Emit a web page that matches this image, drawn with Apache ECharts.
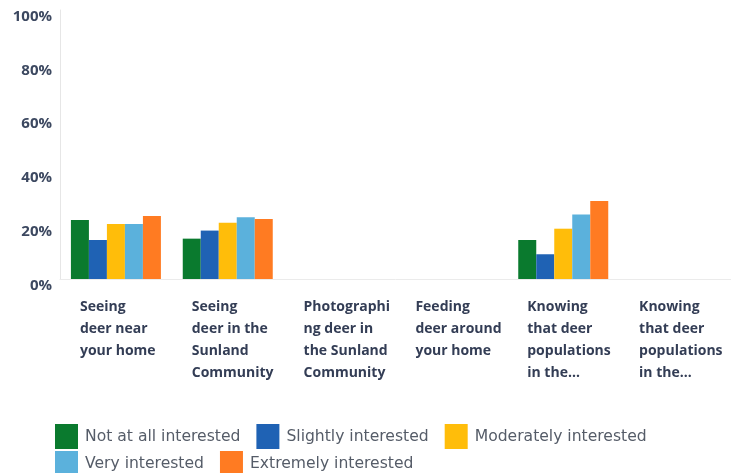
<!DOCTYPE html>
<html>
<head>
    <meta charset="utf-8">
    <title>Deer interest</title>
    <script src="https://cdn.jsdelivr.net/npm/echarts@6/dist/echarts.min.js"></script>
    <style>
        html, body { margin: 0; padding: 0; background: #fff; }
        #chart1 { width: 731px; height: 473px; }
    </style>
</head>
<body>
    <div id="chart1"></div>
    <script type="text/javascript">
        // categories (as wrapped on the original chart)
        var categories = [
            'Seeing\ndeer near\nyour home',
            'Seeing\ndeer in the\nSunland\nCommunity',
            'Photographi\nng deer in\nthe Sunland\nCommunity',
            'Feeding\ndeer around\nyour home',
            'Knowing\nthat deer\npopulations\nin the…',
            'Knowing\nthat deer\npopulations\nin the…'
        ];
        var seriesNames = ['Not at all interested', 'Slightly interested', 'Moderately interested',
                           'Very interested', 'Extremely interested'];
        var notAtAll   = [21.9, 15.0, 0, 0, 14.5, 0];
        var slightly   = [14.5, 18.0, 0, 0, 9.2, 0];
        var moderately = [20.4, 20.9, 0, 0, 18.7, 0];
        var very       = [20.4, 23.0, 0, 0, 24.0, 0];
        var extremely  = [23.4, 22.3, 0, 0, 29.0, 0];
        var yTicks = [0, 20, 40, 60, 80, 100];

        var colors = ['#0a7a2e', '#1f62b4', '#ffbd0a', '#5bb1dc', '#ff7b22'];
        var values = [notAtAll, slightly, moderately, very, extremely];

        var series = [];
        for (var i = 0; i < seriesNames.length; i++) {
            series.push({
                name: seriesNames[i],
                type: 'bar',
                barWidth: 18,
                barGap: '0%',
                itemStyle: { color: colors[i] },
                data: values[i]
            });
        }

        var legendText = { color: '#555c68', fontSize: 15.6, fontFamily: 'DejaVu Sans', padding: [0, 0, 0, 2] };

        var myChart1 = echarts.init(document.getElementById('chart1'));
        myChart1.setOption({
            animation: false,
            color: colors,
            grid: { left: 60, right: 0, top: 10, bottom: 194, containLabel: false },
            legend: [{
                data: seriesNames.slice(0, 3),
                left: 50, top: 419,
                itemWidth: 23, itemHeight: 25, itemGap: 16,
                icon: 'rect',
                textStyle: legendText
            }, {
                data: seriesNames.slice(3),
                left: 50, top: 446,
                itemWidth: 23, itemHeight: 25, itemGap: 16,
                icon: 'rect',
                textStyle: legendText
            }],
            xAxis: {
                type: 'category',
                data: categories,
                axisTick: { show: false },
                axisLine: { lineStyle: { color: '#ebebeb' } },
                axisLabel: {
                    interval: 0,
                    align: 'left',
                    verticalAlign: 'top',
                    padding: [0, 0, 0, -36],
                    margin: 17,
                    lineHeight: 22,
                    fontSize: 14,
                    fontWeight: 'bold',
                    fontFamily: 'Open Sans',
                    color: '#333d55'
                }
            },
            yAxis: {
                type: 'value',
                min: yTicks[0],
                max: yTicks[yTicks.length - 1],
                interval: 20,
                axisLine: { show: true, lineStyle: { color: '#e6e6e6' } },
                axisTick: { show: false },
                splitLine: { show: false },
                axisLabel: {
                    formatter: '{value}%',
                    margin: 8,
                    verticalAlign: 'top',
                    lineHeight: 13,
                    fontSize: 15,
                    fontWeight: 'bold',
                    fontFamily: 'Open Sans',
                    color: '#3c4860'
                }
            },
            series: series
        });
    </script>
</body>
</html>
